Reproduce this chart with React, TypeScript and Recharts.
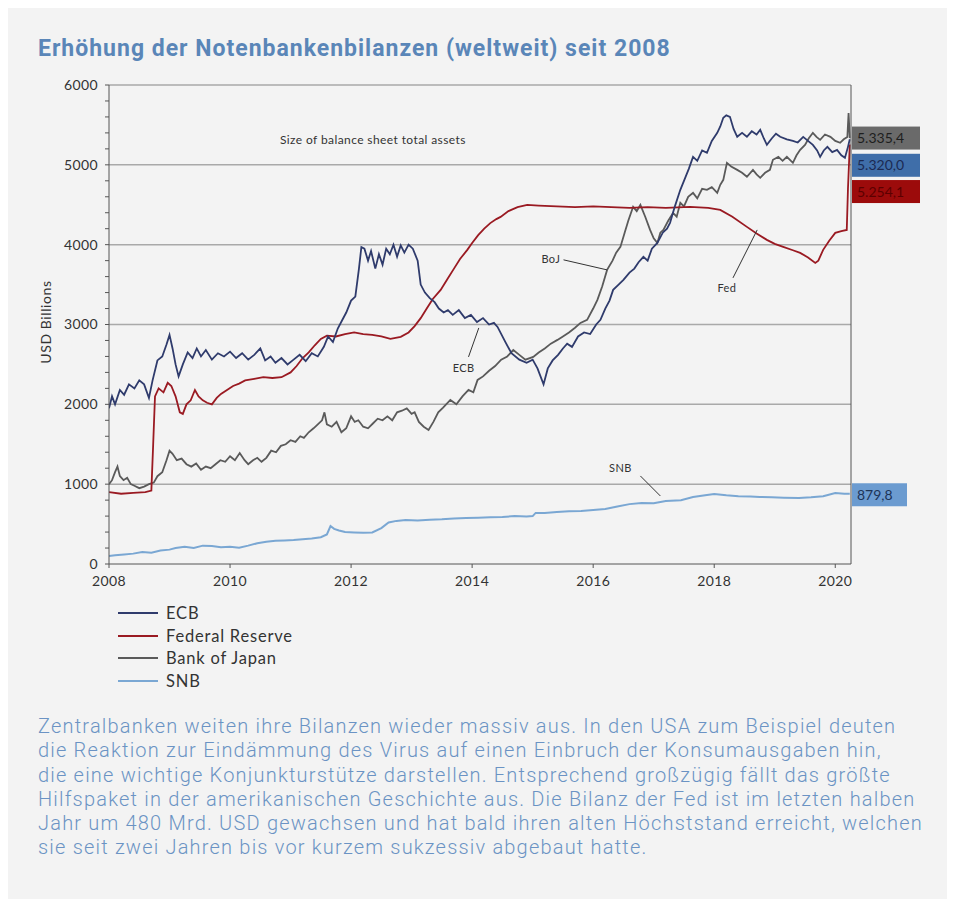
import React from "react"
import { LineChart, Line, XAxis, YAxis, CartesianGrid, ReferenceLine, ReferenceDot } from "recharts"

// ---- data (USD billions) ----
const ecbT = [2008.0, 2008.05, 2008.1, 2008.18, 2008.25, 2008.33, 2008.42, 2008.5, 2008.58, 2008.66, 2008.72, 2008.8, 2008.88, 2008.95, 2009.0, 2009.05, 2009.1, 2009.15, 2009.22, 2009.3, 2009.38, 2009.45, 2009.52, 2009.6, 2009.7, 2009.8, 2009.9, 2010.0, 2010.1, 2010.2, 2010.3, 2010.4, 2010.5, 2010.58, 2010.67, 2010.75, 2010.85, 2010.95, 2011.05, 2011.15, 2011.25, 2011.35, 2011.45, 2011.55, 2011.62, 2011.7, 2011.78, 2011.85, 2011.92, 2012.0, 2012.07, 2012.13, 2012.17, 2012.22, 2012.28, 2012.33, 2012.4, 2012.46, 2012.52, 2012.58, 2012.64, 2012.7, 2012.76, 2012.82, 2012.88, 2012.95, 2013.02, 2013.1, 2013.15, 2013.22, 2013.3, 2013.38, 2013.45, 2013.53, 2013.6, 2013.68, 2013.78, 2013.88, 2013.98, 2014.08, 2014.18, 2014.28, 2014.36, 2014.42, 2014.55, 2014.65, 2014.78, 2014.9, 2015.0, 2015.08, 2015.18, 2015.25, 2015.33, 2015.42, 2015.5, 2015.57, 2015.65, 2015.75, 2015.85, 2015.95, 2016.05, 2016.12, 2016.2, 2016.27, 2016.33, 2016.42, 2016.5, 2016.6, 2016.68, 2016.75, 2016.83, 2016.9, 2016.97, 2017.06, 2017.15, 2017.22, 2017.27, 2017.35, 2017.44, 2017.5, 2017.58, 2017.65, 2017.72, 2017.8, 2017.88, 2017.96, 2018.05, 2018.1, 2018.15, 2018.2, 2018.26, 2018.32, 2018.38, 2018.46, 2018.54, 2018.62, 2018.7, 2018.76, 2018.82, 2018.87, 2018.95, 2019.02, 2019.09, 2019.2, 2019.3, 2019.38, 2019.47, 2019.55, 2019.63, 2019.7, 2019.75, 2019.81, 2019.87, 2019.95, 2020.03, 2020.1, 2020.16, 2020.21, 2020.24]
const ecbV = [1950, 2100, 2000, 2180, 2120, 2250, 2200, 2300, 2250, 2080, 2300, 2550, 2600, 2750, 2870, 2700, 2500, 2350, 2500, 2650, 2580, 2700, 2600, 2680, 2560, 2640, 2600, 2660, 2580, 2640, 2560, 2620, 2700, 2550, 2600, 2520, 2580, 2500, 2560, 2620, 2540, 2640, 2600, 2720, 2850, 2780, 2950, 3050, 3150, 3300, 3350, 3700, 3970, 3950, 3800, 3920, 3700, 3880, 3750, 3950, 3880, 4000, 3850, 3990, 3900, 4000, 3950, 3800, 3500, 3400, 3330, 3280, 3200, 3150, 3180, 3120, 3180, 3080, 3120, 3030, 3080, 3000, 3020, 2970, 2780, 2640, 2560, 2520, 2560, 2450, 2250, 2450, 2550, 2620, 2700, 2760, 2720, 2850, 2900, 2880, 3000, 3058, 3200, 3300, 3434, 3500, 3560, 3650, 3700, 3780, 3847, 3800, 3950, 4022, 4150, 4200, 4273, 4480, 4687, 4800, 4950, 5100, 5050, 5180, 5150, 5300, 5401, 5480, 5589, 5620, 5601, 5450, 5351, 5400, 5351, 5420, 5380, 5439, 5330, 5251, 5330, 5390, 5351, 5320, 5300, 5280, 5350, 5300, 5250, 5180, 5100, 5180, 5225, 5160, 5188, 5120, 5088, 5225, 5320]

const fedT = [2008.0, 2008.2, 2008.4, 2008.6, 2008.7, 2008.73, 2008.76, 2008.82, 2008.9, 2008.97, 2009.03, 2009.1, 2009.17, 2009.22, 2009.28, 2009.35, 2009.42, 2009.48, 2009.55, 2009.62, 2009.7, 2009.78, 2009.85, 2009.95, 2010.05, 2010.15, 2010.25, 2010.4, 2010.55, 2010.7, 2010.85, 2011.0, 2011.1, 2011.2, 2011.3, 2011.4, 2011.5, 2011.6, 2011.75, 2011.9, 2012.05, 2012.2, 2012.35, 2012.5, 2012.65, 2012.82, 2012.95, 2013.05, 2013.15, 2013.25, 2013.35, 2013.48, 2013.6, 2013.7, 2013.8, 2013.92, 2014.0, 2014.1, 2014.2, 2014.3, 2014.4, 2014.47, 2014.6, 2014.75, 2014.91, 2015.1, 2015.4, 2015.7, 2016.0, 2016.3, 2016.6, 2016.9, 2017.2, 2017.6, 2017.9, 2018.1, 2018.3, 2018.54, 2018.7, 2018.87, 2019.0, 2019.14, 2019.3, 2019.42, 2019.55, 2019.67, 2019.72, 2019.8, 2019.9, 2020.0, 2020.1, 2020.19, 2020.21, 2020.24]
const fedV = [900, 880, 890, 900, 920, 1500, 2100, 2200, 2150, 2270, 2230, 2100, 1900, 1880, 2000, 2050, 2180, 2100, 2050, 2020, 2000, 2080, 2130, 2180, 2230, 2260, 2300, 2320, 2340, 2330, 2340, 2400, 2480, 2580, 2650, 2740, 2820, 2860, 2850, 2880, 2900, 2880, 2870, 2850, 2820, 2845, 2900, 2980, 3080, 3200, 3320, 3434, 3580, 3700, 3820, 3935, 4020, 4120, 4200, 4270, 4320, 4348, 4420, 4470, 4499, 4490, 4480, 4470, 4480, 4470, 4460, 4470, 4460, 4474, 4460, 4436, 4350, 4223, 4140, 4060, 4010, 3972, 3930, 3897, 3840, 3772, 3800, 3935, 4050, 4148, 4170, 4185, 4700, 5254]

const bojT = [2008.0, 2008.05, 2008.1, 2008.14, 2008.18, 2008.24, 2008.3, 2008.36, 2008.42, 2008.5, 2008.58, 2008.66, 2008.74, 2008.8, 2008.88, 2008.95, 2009.0, 2009.05, 2009.12, 2009.2, 2009.28, 2009.36, 2009.44, 2009.52, 2009.6, 2009.68, 2009.76, 2009.84, 2009.92, 2010.0, 2010.08, 2010.16, 2010.24, 2010.3, 2010.38, 2010.45, 2010.52, 2010.6, 2010.68, 2010.76, 2010.84, 2010.92, 2011.0, 2011.08, 2011.16, 2011.22, 2011.3, 2011.38, 2011.45, 2011.52, 2011.56, 2011.6, 2011.68, 2011.76, 2011.84, 2011.92, 2012.0, 2012.06, 2012.12, 2012.2, 2012.28, 2012.36, 2012.44, 2012.52, 2012.6, 2012.68, 2012.76, 2012.84, 2012.92, 2013.0, 2013.05, 2013.12, 2013.2, 2013.28, 2013.36, 2013.44, 2013.52, 2013.64, 2013.74, 2013.84, 2013.94, 2014.02, 2014.09, 2014.18, 2014.28, 2014.38, 2014.48, 2014.58, 2014.68, 2014.78, 2014.88, 2015.01, 2015.1, 2015.2, 2015.3, 2015.41, 2015.5, 2015.6, 2015.7, 2015.79, 2015.9, 2016.0, 2016.07, 2016.15, 2016.23, 2016.32, 2016.38, 2016.45, 2016.52, 2016.58, 2016.66, 2016.72, 2016.78, 2016.86, 2016.94, 2017.0, 2017.06, 2017.11, 2017.16, 2017.24, 2017.32, 2017.38, 2017.44, 2017.5, 2017.57, 2017.65, 2017.72, 2017.8, 2017.88, 2017.96, 2018.05, 2018.1, 2018.15, 2018.21, 2018.28, 2018.38, 2018.46, 2018.54, 2018.64, 2018.7, 2018.76, 2018.84, 2018.92, 2018.97, 2019.06, 2019.13, 2019.2, 2019.3, 2019.36, 2019.42, 2019.5, 2019.56, 2019.63, 2019.69, 2019.75, 2019.83, 2019.92, 2020.0, 2020.08, 2020.14, 2020.2, 2020.22, 2020.24]
const bojV = [1000, 1050, 1150, 1220, 1100, 1050, 1080, 1000, 980, 950, 970, 1000, 1020, 1100, 1150, 1300, 1420, 1380, 1300, 1320, 1250, 1220, 1260, 1180, 1220, 1200, 1250, 1300, 1280, 1350, 1300, 1390, 1300, 1250, 1300, 1330, 1280, 1330, 1420, 1400, 1480, 1500, 1550, 1530, 1600, 1580, 1650, 1700, 1750, 1800, 1900, 1750, 1720, 1780, 1650, 1700, 1850, 1780, 1800, 1720, 1700, 1760, 1820, 1800, 1850, 1800, 1900, 1920, 1950, 1880, 1900, 1780, 1720, 1680, 1780, 1900, 1960, 2055, 2000, 2100, 2180, 2150, 2306, 2350, 2420, 2480, 2560, 2600, 2680, 2620, 2560, 2594, 2650, 2700, 2760, 2807, 2850, 2900, 2960, 3020, 3058, 3200, 3308, 3480, 3684, 3800, 3900, 3972, 4150, 4300, 4474, 4420, 4499, 4350, 4185, 4080, 4022, 4150, 4185, 4300, 4398, 4350, 4524, 4480, 4600, 4649, 4580, 4700, 4687, 4720, 4649, 4750, 4812, 5025, 4980, 4937, 4900, 4850, 4937, 4880, 4837, 4900, 4937, 5063, 5100, 5050, 5100, 5025, 5120, 5188, 5250, 5330, 5401, 5350, 5313, 5380, 5351, 5300, 5276, 5320, 5350, 5650, 5335]

const snbT = [2008.0, 2008.1, 2008.25, 2008.4, 2008.55, 2008.7, 2008.85, 2009.0, 2009.1, 2009.25, 2009.4, 2009.55, 2009.7, 2009.85, 2010.0, 2010.15, 2010.3, 2010.45, 2010.6, 2010.75, 2010.9, 2011.05, 2011.2, 2011.35, 2011.5, 2011.6, 2011.66, 2011.72, 2011.8, 2011.9, 2012.05, 2012.2, 2012.35, 2012.5, 2012.62, 2012.75, 2012.9, 2013.1, 2013.3, 2013.5, 2013.7, 2013.9, 2014.1, 2014.3, 2014.5, 2014.7, 2014.9, 2015.0, 2015.05, 2015.2, 2015.4, 2015.6, 2015.8, 2016.0, 2016.2, 2016.4, 2016.6, 2016.8, 2017.0, 2017.2, 2017.45, 2017.65, 2017.85, 2018.0, 2018.2, 2018.4, 2018.6, 2018.75, 2018.95, 2019.15, 2019.4, 2019.6, 2019.8, 2020.0, 2020.15, 2020.24]
const snbV = [100, 110, 120, 130, 150, 140, 170, 180, 200, 215, 200, 230, 225, 210, 215, 205, 230, 260, 280, 290, 295, 300, 310, 320, 335, 370, 476, 440, 420, 400, 395, 390, 395, 450, 520, 540, 550, 545, 555, 560, 570, 575, 580, 585, 590, 600, 595, 600, 640, 640, 650, 660, 665, 677, 690, 720, 750, 764, 760, 790, 800, 840, 860, 877, 860, 850, 845, 840, 835, 830, 827, 835, 850, 890, 880, 880]

const seriesNames = ["ECB", "Federal Reserve", "Bank of Japan", "SNB"]
const endLabelTexts = ["5.335,4", "5.320,0", "5.254,1", "879,8"]
const endLabelValues = [5335.4, 5320.0, 5254.1, 879.8]
const xTicks = [2008, 2010, 2012, 2014, 2016, 2018, 2020]
const yTicks = [0, 200, 400, 600, 800, 1000, 1200, 1400, 1600, 1800, 2000, 2200, 2400, 2600, 2800, 3000, 3200, 3400, 3600, 3800, 4000, 4200, 4400, 4600, 4800, 5000, 5200, 5400, 5600, 5800, 6000]
const gridValues = [1000, 2000, 3000, 4000, 5000, 6000]

const bodyLines = [
  "Zentralbanken weiten ihre Bilanzen wieder massiv aus. In den USA zum Beispiel deuten",
  "die Reaktion zur Eindämmung des Virus auf einen Einbruch der Konsumausgaben hin,",
  "die eine wichtige Konjunkturstütze darstellen. Entsprechend großzügig fällt das größte",
  "Hilfspaket in der amerikanischen Geschichte aus. Die Bilanz der Fed ist im letzten halben",
  "Jahr um 480 Mrd. USD gewachsen und hat bald ihren alten Höchststand erreicht, welchen",
  "sie seit zwei Jahren bis vor kurzem sukzessiv abgebaut hatte.",
]

const zip = (ts: number[], vs: number[]) => ts.map((t, i) => ({ t, v: vs[i] }))
const ecbData = zip(ecbT, ecbV)
const fedData = zip(fedT, fedV)
const bojData = zip(bojT, bojV)
const snbData = zip(snbT, snbV)

// ---- styling ----
const COLORS = ["#2f3b6c", "#9a1a22", "#5a5a5a", "#7aa7d3"]
const BOX_FILL = ["#6a6a6a", "#3f6ea9", "#9c0b0b", "#6b9bd0"]
const BOX_TEXT = ["#1e1e1e", "#1b2a52", "#5c0000", "#1d3457"]
const BOX_DY = [0, 26, 47, 1]
const BOX_W = [68, 68, 68, 55]
const X_MAX = 2020.26
const chartFont = "Lato, 'Open Sans', sans-serif"
const din = "Roboto, 'Noto Sans', sans-serif"
const tickStyle = { fill: "#333", fontSize: 14, fontFamily: chartFont, letterSpacing: 0.4 }

const EndBox = ({ cx, cy, i }: any) => (
  <g>
    <rect x={cx + 1} y={cy + BOX_DY[i] - 11.5} width={BOX_W[i]} height={23} fill={BOX_FILL[i]} />
    <text x={cx + 6} y={cy + BOX_DY[i] + 5} fontSize={14} fill={BOX_TEXT[i]} fontFamily={chartFont}>
      {endLabelTexts[i]}
    </text>
  </g>
)

const Note = ({ cx, cy, text, size = 11 }: any) => (
  <text
    x={cx}
    y={cy}
    textAnchor="middle"
    dominantBaseline="central"
    fontSize={size}
    fill="#333"
    fontFamily={chartFont}
    letterSpacing={0.4}
  >
    {text}
  </text>
)

const tickFmt = (v: number) => (v % 1000 === 0 ? String(v) : "")

export default function App() {
  return (
    <div style={{ position: "relative", width: 940, height: 891, background: "#f3f3f3", fontFamily: din }}>
      <div style={{ position: "absolute", left: 30, top: 27, fontSize: 23, fontWeight: 700, color: "#5a86b8", letterSpacing: 1 }}>
        Erhöhung der Notenbankenbilanzen (weltweit) seit 2008
      </div>

      <div
        style={{
          position: "absolute",
          left: 37,
          top: 314,
          transform: "translate(-50%, -50%) rotate(-90deg)",
          fontSize: 14,
          letterSpacing: 0.6,
          color: "#333",
          fontFamily: chartFont,
          whiteSpace: "nowrap",
        }}
      >
        USD Billions
      </div>

      <div style={{ position: "absolute", left: 0, top: 60 }}>
        <LineChart width={930} height={540} margin={{ top: 17, right: 27, bottom: 14, left: 41 }}>
          <CartesianGrid yAxisId="left" vertical={false} horizontalValues={gridValues} stroke="#a9a9a9" strokeWidth={1.5} />
          <XAxis
            dataKey="t"
            type="number"
            domain={[2008, X_MAX]}
            ticks={xTicks}
            allowDataOverflow
            height={30}
            stroke="#555"
            tick={tickStyle}
            tickSize={4}
            tickMargin={8}
          />
          <YAxis
            yAxisId="left"
            domain={[0, 6000]}
            ticks={yTicks}
            interval={0}
            tickFormatter={tickFmt}
            width={60}
            stroke="#555"
            tickSize={4}
            tickMargin={7}
            tick={tickStyle}
          />
          <YAxis
            yAxisId="right"
            orientation="right"
            domain={[0, 6000]}
            ticks={yTicks}
            interval={0}
            tickFormatter={tickFmt}
            width={60}
            stroke="#555"
            tickSize={4}
            tickMargin={8}
            tick={tickStyle}
          />

          <Line yAxisId="left" data={snbData} dataKey="v" name={seriesNames[3]} stroke={COLORS[3]} strokeWidth={2} dot={false} isAnimationActive={false} />
          <Line yAxisId="left" data={bojData} dataKey="v" name={seriesNames[2]} stroke={COLORS[2]} strokeWidth={1.8} dot={false} isAnimationActive={false} />
          <Line yAxisId="left" data={fedData} dataKey="v" name={seriesNames[1]} stroke={COLORS[1]} strokeWidth={1.8} dot={false} isAnimationActive={false} />
          <Line yAxisId="left" data={ecbData} dataKey="v" name={seriesNames[0]} stroke={COLORS[0]} strokeWidth={1.8} dot={false} isAnimationActive={false} />

          {/* annotation leaders */}
          <ReferenceLine yAxisId="left" segment={[{ x: 2015.51, y: 3810 }, { x: 2016.23, y: 3684 }]} stroke="#333" />
          <ReferenceLine yAxisId="left" segment={[{ x: 2013.94, y: 2594 }, { x: 2014.11, y: 2957 }]} stroke="#333" />
          <ReferenceLine yAxisId="left" segment={[{ x: 2018.31, y: 3584 }, { x: 2018.71, y: 4185 }]} stroke="#333" />
          <ReferenceLine yAxisId="left" segment={[{ x: 2016.78, y: 1103 }, { x: 2017.11, y: 852 }]} stroke="#333" />

          <ReferenceDot yAxisId="left" x={2012.36} y={5313} r={0} shape={(p: any) => <Note {...p} size={12} text="Size of balance sheet total assets" />} />
          <ReferenceDot yAxisId="left" x={2015.3} y={3830} r={0} shape={(p: any) => <Note {...p} text="BoJ" />} />
          <ReferenceDot yAxisId="left" x={2013.86} y={2456} r={0} shape={(p: any) => <Note {...p} text="ECB" />} />
          <ReferenceDot yAxisId="left" x={2018.21} y={3459} r={0} shape={(p: any) => <Note {...p} text="Fed" />} />
          <ReferenceDot yAxisId="left" x={2016.45} y={1203} r={0} shape={(p: any) => <Note {...p} text="SNB" />} />

          {[2, 0, 1, 3].map((i) => (
            <ReferenceDot
              key={i}
              yAxisId="left"
              x={X_MAX}
              y={endLabelValues[i]}
              r={0}
              ifOverflow="visible"
              shape={(p: any) => <EndBox {...p} i={i} />}
            />
          ))}
        </LineChart>
      </div>

      <div style={{ position: "absolute", left: 110, top: 594, fontFamily: chartFont, fontSize: 16.5, letterSpacing: 0.8, color: "#333" }}>
        {seriesNames.map((n, i) => (
          <div key={n} style={{ display: "flex", alignItems: "center", height: 22.5 }}>
            <div style={{ width: 40, height: 2, background: COLORS[i], marginRight: 8 }} />
            <span>{n}</span>
          </div>
        ))}
      </div>

      <div
        style={{
          position: "absolute",
          left: 30,
          top: 706,
          fontSize: 20,
          fontWeight: 300,
          letterSpacing: 1.2,
          lineHeight: "24.3px",
          color: "#6b93c4",
          whiteSpace: "nowrap",
        }}
      >
        {bodyLines.map((l) => (
          <div key={l}>{l}</div>
        ))}
      </div>
    </div>
  )
}
